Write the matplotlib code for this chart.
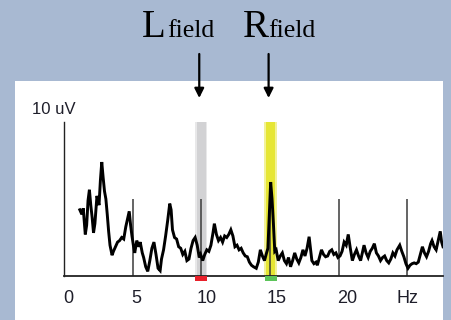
import matplotlib.pyplot as plt
from matplotlib.patches import Rectangle

# spectrum (Hz, uV)
freq = [1.15, 1.3, 1.4, 1.55, 1.65, 1.75, 1.85, 1.95, 2.05, 2.15, 2.25, 2.4, 2.55, 2.65,
        2.75, 2.85, 2.95, 3.05, 3.15, 3.25, 3.35, 3.5, 3.6, 3.75, 3.9, 4.05, 4.2, 4.35,
        4.5, 4.65, 4.75, 4.85, 4.95, 5.05, 5.15, 5.3, 5.45, 5.55, 5.7, 5.8, 5.95, 6.1,
        6.25, 6.4, 6.55, 6.7, 6.85, 7.0, 7.1, 7.25, 7.4, 7.55, 7.7, 7.8, 7.9, 8.05, 8.2,
        8.35, 8.5, 8.65, 8.8, 8.95, 9.1, 9.25, 9.4, 9.55, 9.7, 9.85, 9.95, 10.1, 10.25,
        10.4, 10.55, 10.7, 10.85, 10.95, 11.1, 11.25, 11.4, 11.55, 11.7, 11.85, 12.0,
        12.15, 12.3, 12.45, 12.6, 12.75, 12.9, 13.05, 13.2, 13.35, 13.5, 13.65, 13.8,
        14.0, 14.15, 14.3, 14.45, 14.6, 14.75, 14.85, 14.95, 15.05, 15.15, 15.25, 15.35,
        15.45, 15.6, 15.75, 15.9, 16.05, 16.2, 16.35, 16.5, 16.65, 16.8, 16.95, 17.1,
        17.25, 17.4, 17.55, 17.7, 17.85, 17.95, 18.05, 18.2, 18.35, 18.45, 18.6, 18.75,
        18.9, 19.05, 19.2, 19.35, 19.5, 19.65, 19.8, 19.95, 20.1, 20.25, 20.4, 20.55,
        20.7, 20.85, 21.0, 21.15, 21.3, 21.45, 21.6, 21.75, 21.85, 22.0, 22.15, 22.3,
        22.45, 22.6, 22.75, 22.9, 23.05, 23.2, 23.35, 23.5, 23.65, 23.8, 23.95, 24.1,
        24.25, 24.45, 24.6, 24.75, 24.9, 25.05, 25.2, 25.35, 25.5, 25.65, 25.8, 25.95,
        26.1, 26.25, 26.4, 26.55, 26.7, 26.8, 26.95, 27.1, 27.25, 27.4, 27.5, 27.6]
amp = [4.3, 4.0, 4.4, 2.7, 3.3, 4.9, 5.6, 4.6, 3.8, 2.8, 3.4, 5.2, 4.6, 6.2,
       7.4, 6.4, 5.5, 5.0, 4.0, 2.9, 2.0, 1.35, 1.6, 1.9, 2.2, 2.3, 2.5, 2.4,
       3.2, 3.8, 4.2, 3.3, 2.6, 2.0, 1.5, 2.3, 1.9, 2.2, 1.5, 1.2, 0.6, 0.3,
       1.0, 1.8, 2.2, 1.4, 0.5, 0.35, 1.1, 1.7, 2.6, 3.6, 4.7, 4.3, 3.0, 2.5, 2.4,
       1.9, 1.8, 1.4, 1.6, 1.0, 1.1, 1.8, 2.3, 2.5, 2.0, 1.2, 1.4, 1.0, 1.4,
       1.7, 1.6, 2.0, 2.8, 3.4, 2.7, 2.3, 2.5, 2.2, 2.6, 2.5, 2.7,
       3.0, 2.6, 1.9, 2.0, 1.7, 1.8, 1.5, 1.3, 1.25, 0.9, 0.7, 0.6,
       0.5, 0.9, 1.7, 1.3, 1.0, 1.5, 1.8, 4.0, 6.1, 5.0, 3.4, 1.6,
       1.7, 1.0, 1.3, 1.5, 1.0, 0.8, 1.2, 0.6, 1.0, 1.5, 1.1, 0.85,
       1.2, 1.7, 1.3, 1.8, 2.55, 1.8, 1.0, 0.8, 0.9, 0.7, 1.2, 1.7,
       1.4, 1.25, 1.3, 1.6, 1.7, 1.4, 1.5, 1.2, 1.3, 1.6, 2.2, 2.0,
       2.7, 1.8, 1.0, 1.4, 1.7, 1.3, 1.0, 1.6, 2.0, 1.5, 1.2, 1.6,
       1.8, 2.1, 1.5, 1.3, 1.0, 1.2, 1.3, 1.0, 0.85, 1.1, 1.5, 1.3,
       1.7, 2.0, 1.6, 1.25, 0.8, 0.5, 0.7, 0.8, 0.85, 0.8, 0.9, 1.4,
       1.9, 1.5, 1.25, 1.6, 2.1, 2.3, 1.9, 1.7, 2.3, 2.9, 2.2, 1.9]

grid_freqs = [5, 10, 15, 20, 25]
tick_pos = [0.3, 5.3, 10.4, 15.5, 20.6, 25.0]
tick_labels = ['0', '5', '10', '15', '20', 'Hz']

fields = ['L', 'R']
field_freqs = [10.0, 15.05]
field_colors = ['#d2d2d4', '#e6e634']
marker_colors = ['#e8202a', '#5cc45a']

W, H = 451, 320
fig = plt.figure(figsize=(W / 100, H / 100), dpi=100)
fig.patch.set_facecolor('#a8b9d2')

# background axes holding the white panel
bg = fig.add_axes([0, 0, 1, 1], zorder=0)
bg.set_xlim(0, W)
bg.set_ylim(0, H)
bg.axis('off')
bg.add_patch(Rectangle((15, 0), 428, 239, facecolor='white', edgecolor='none'))

ax = fig.add_axes([64 / W, 44 / H, 379 / W, 154 / H], zorder=1)
ax.set_facecolor('none')
ax.set_xlim(0, 27.6)
ax.set_ylim(0, 10)

for f, c, mc in zip(field_freqs, field_colors, marker_colors):
    ax.bar(f, 10.1, width=0.9, color=c, alpha=0.5, zorder=1, linewidth=0)
    ax.bar(f, 10.0, width=0.65, color=c, zorder=1, linewidth=0)
    ax.bar(f, -0.35, width=0.85, color=mc, zorder=3, clip_on=False, linewidth=0)

ax.vlines(grid_freqs, 0, 5, color='#3a3a3a', lw=1.1, zorder=2)
ax.plot(freq, amp, color='black', lw=2.1, zorder=4, solid_joinstyle='miter')

for s in ['top', 'right']:
    ax.spines[s].set_visible(False)
ax.spines['left'].set_linewidth(1.0)
ax.spines['bottom'].set_linewidth(1.3)
ax.spines['left'].set_color('#222222')
ax.spines['bottom'].set_color('#222222')

ax.set_yticks([])
ax.set_xticks(tick_pos)
ax.set_xticklabels(tick_labels, fontsize=13, family='Liberation Sans', color='#1e1e2a')
ax.tick_params(axis='x', length=0, pad=10)

bg.text(32, H - 110, '10 uV', fontsize=12, family='Liberation Sans',
        color='#1e1e2a', va='center', ha='left')

# field labels with arrows
label_x = [142, 243]
for name, x0, f in zip(fields, label_x, field_freqs):
    bg.text(x0, H - 37, name, fontsize=28, family='Liberation Serif',
            va='baseline', ha='left')
    bg.text(x0 + 25, H - 37, 'field', fontsize=18.5, family='Liberation Serif',
            va='baseline', ha='left')
    ax.annotate('', xy=(f - 0.15, H - 98), xytext=(f - 0.15, H - 54),
                xycoords=('data', 'figure pixels'), textcoords=('data', 'figure pixels'),
                annotation_clip=False,
                arrowprops=dict(arrowstyle='-|>', color='black', lw=1.6,
                                mutation_scale=14, shrinkA=0, shrinkB=0))

fig.savefig('out.png', dpi=100, facecolor=fig.get_facecolor())
